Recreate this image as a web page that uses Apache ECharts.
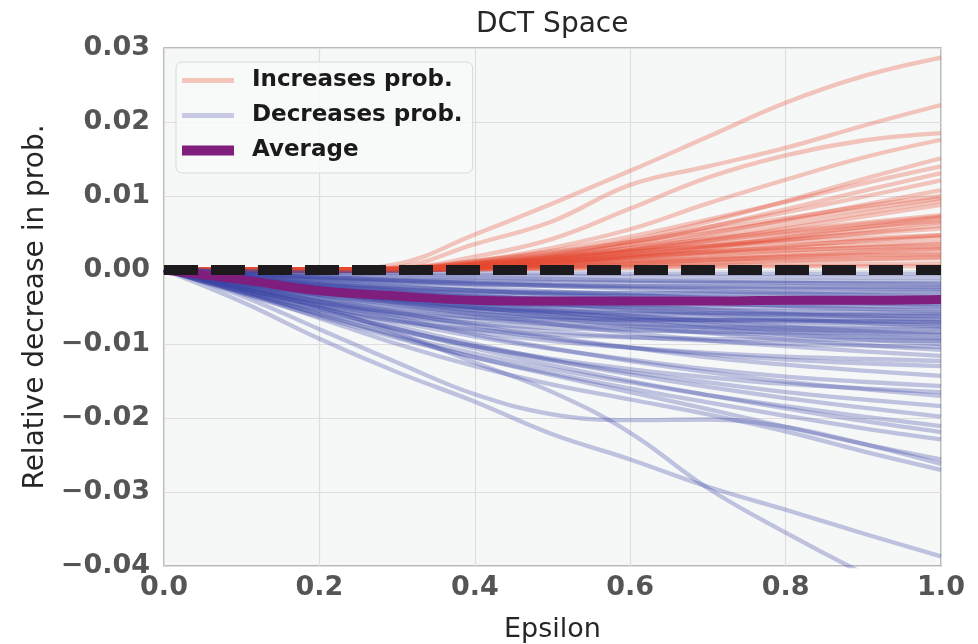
<!DOCTYPE html>
<html><head><meta charset="utf-8">
<script src="https://cdn.jsdelivr.net/npm/echarts/dist/echarts.min.js"></script>
<style>html,body{margin:0;padding:0;background:#fff}#c{width:978px;height:644px}</style>
</head><body><div id="c"></div>
<script>
const epsilon = [0, 0.1, 0.2, 0.3, 0.4, 0.5, 0.6, 0.7, 0.8, 0.9, 1.0];
const xTicks = [0, 0.2, 0.4, 0.6, 0.8, 1.0];
const yTicks = [-0.04, -0.03, -0.02, -0.01, 0, 0.01, 0.02, 0.03];

const increasesLines = [
  [0,0,0,0.0008,0.0048,0.009,0.0134,0.018,0.0226,0.0262,0.0287],
  [0,0,0,0.0004,0.0035,0.0066,0.0115,0.014,0.0165,0.0195,0.0223],
  [0,0,0,0.0002,0.0018,0.0042,0.0083,0.0125,0.0155,0.0175,0.0185],
  [0,0,0,0,0.0012,0.003,0.0055,0.009,0.0122,0.0152,0.0176],
  [0,0,0,0,0.0008,0.002,0.004,0.0065,0.0093,0.0123,0.0151],
  [0,0,0,0.0002,0.0012,0.0026,0.0045,0.0068,0.0092,0.0117,0.014],
  [0,0,0,0,0.0008,0.0018,0.0035,0.0058,0.0082,0.0107,0.0131],
  [0,0,0,0.0001,0.001,0.0022,0.0038,0.0058,0.0078,0.0099,0.0121],
  [0,0,0,0,0.0006,0.0016,0.003,0.0048,0.0068,0.0088,0.0108],
  [0,0,0,0.0002,0.0012,0.0024,0.0038,0.0054,0.007,0.0086,0.01],
  [0,0,0,0,0.0005,0.0013,0.0025,0.004,0.0056,0.0072,0.0088],
  [0,0,0,0.0001,0.0008,0.0018,0.003,0.0042,0.0053,0.0064,0.0074],
  [0,0,0,0,0.0004,0.001,0.002,0.0032,0.0043,0.0054,0.0065],
  [0,0,0,0.0001,0.0007,0.0015,0.0024,0.0033,0.0041,0.0049,0.0056],
  [0,0,0,0,0.0003,0.0009,0.0016,0.0024,0.0032,0.004,0.0047],
  [0,0,0,0.0001,0.0006,0.0012,0.0019,0.0025,0.003,0.0034,0.0038],
  [0,0,0,0,0.0003,0.0007,0.0012,0.0017,0.0022,0.0026,0.0029],
  [0,0,0,0,0.0002,0.0005,0.0009,0.0013,0.0017,0.002,0.0022],
  [0,0,0,0,0.0001,0.0003,0.0006,0.0009,0.0012,0.0014,0.0016],
  [0,0,0,0,0.0001,0.0002,0.0004,0.0006,0.0007,0.0008,0.0009],
  [0,0,0,0.0001,0.0009,0.002,0.0034,0.005,0.0066,0.0082,0.0097],
  [0,0,0,0,0.0005,0.0014,0.0027,0.0043,0.006,0.0077,0.0093],
  [0,0,0,0.0001,0.0007,0.0016,0.0027,0.0039,0.0051,0.0062,0.0072],
  [0,0,0,0,0.0004,0.0011,0.002,0.003,0.004,0.005,0.006],
  [0,0,0,0.0002,0.0009,0.0017,0.0025,0.0032,0.0038,0.0043,0.0047],
  [0,0,0,0,0.0003,0.0008,0.0014,0.002,0.0026,0.0031,0.0035],
  [0,0,0,0.0001,0.0006,0.0012,0.0018,0.0023,0.0027,0.003,0.0032],
  [0,0,0,0,0.0002,0.0005,0.0009,0.0014,0.0019,0.0024,0.0028],
  [0,0,0,0.0001,0.0004,0.0008,0.0012,0.0015,0.0018,0.002,0.0021],
  [0,0,0,0,0.0002,0.0004,0.0007,0.001,0.0013,0.0015,0.0017],
  [0,0,0,0,0.0003,0.0009,0.0018,0.003,0.0044,0.0058,0.0071],
  [0,0,0,0.0001,0.0006,0.0014,0.0024,0.0036,0.0048,0.0058,0.0066],
  [0,0,0,0,0.0004,0.001,0.0017,0.0025,0.0033,0.0039,0.0044],
  [0,0,0,0,0.0001,0.0002,0.0003,0.0004,0.0005,0.0005,0.0005]
];

const decreasesLines = [
  [0,-0.00015,-0.00028,-0.00036,-0.00042,-0.00046,-0.00048,-0.00049,-0.00049,-0.0005,-0.0005],
  [0,-0.0002,-0.0004,-0.00056,-0.0007,-0.0008,-0.00087,-0.00092,-0.00096,-0.00098,-0.001],
  [0,-0.00045,-0.00083,-0.00108,-0.00126,-0.00137,-0.00143,-0.00146,-0.00147,-0.00149,-0.0015],
  [0,-0.00026,-0.00052,-0.00076,-0.001,-0.0012,-0.0014,-0.00158,-0.00174,-0.00188,-0.002],
  [0,-0.00069,-0.00127,-0.00166,-0.00193,-0.00209,-0.00219,-0.00223,-0.00225,-0.00228,-0.0023],
  [0,-0.00054,-0.00108,-0.00151,-0.00189,-0.00216,-0.00235,-0.00248,-0.00259,-0.00265,-0.0027],
  [0,-0.00105,-0.00195,-0.00255,-0.00291,-0.00306,-0.00309,-0.00306,-0.00303,-0.003,-0.003],
  [0,-0.00099,-0.00182,-0.00238,-0.00277,-0.003,-0.00314,-0.0032,-0.00323,-0.00327,-0.0033],
  [0,-0.00047,-0.00094,-0.00137,-0.0018,-0.00216,-0.00252,-0.00284,-0.00313,-0.00338,-0.0036],
  [0,-0.0008,-0.0016,-0.00224,-0.0028,-0.0032,-0.00348,-0.00368,-0.00384,-0.00392,-0.004],
  [0,-0.00129,-0.00237,-0.0031,-0.00361,-0.00391,-0.00409,-0.00417,-0.00421,-0.00426,-0.0043],
  [0,-0.00161,-0.00299,-0.00391,-0.00446,-0.00469,-0.00474,-0.00469,-0.00465,-0.0046,-0.0046],
  [0,-0.001,-0.002,-0.0028,-0.0035,-0.004,-0.00435,-0.0046,-0.0048,-0.0049,-0.005],
  [0,-0.00159,-0.00292,-0.00382,-0.00445,-0.00482,-0.00504,-0.00514,-0.00519,-0.00525,-0.0053],
  [0,-0.00073,-0.00146,-0.00213,-0.0028,-0.00336,-0.00392,-0.00442,-0.00487,-0.00526,-0.0056],
  [0,-0.0018,-0.0033,-0.00432,-0.00504,-0.00546,-0.0057,-0.00582,-0.00588,-0.00594,-0.006],
  [0,-0.00126,-0.00252,-0.00353,-0.00441,-0.00504,-0.00548,-0.0058,-0.00605,-0.00617,-0.0063],
  [0,-0.00231,-0.00429,-0.00561,-0.0064,-0.00673,-0.0068,-0.00673,-0.00667,-0.0066,-0.0066],
  [0,-0.0021,-0.00385,-0.00504,-0.00588,-0.00637,-0.00665,-0.00679,-0.00686,-0.00693,-0.007],
  [0,-0.00146,-0.00292,-0.00409,-0.00511,-0.00584,-0.00635,-0.00672,-0.00701,-0.00715,-0.0073],
  [0,-0.00099,-0.00198,-0.00289,-0.0038,-0.00456,-0.00532,-0.006,-0.00661,-0.00714,-0.0076],
  [0,-0.0024,-0.0044,-0.00576,-0.00672,-0.00728,-0.0076,-0.00776,-0.00784,-0.00792,-0.008],
  [0,-0.00168,-0.00336,-0.0047,-0.00588,-0.00672,-0.00731,-0.00773,-0.00806,-0.00823,-0.0084],
  [0,-0.00114,-0.00229,-0.00334,-0.0044,-0.00528,-0.00616,-0.00695,-0.00766,-0.00827,-0.0088],
  [0,-0.00184,-0.00368,-0.00515,-0.00644,-0.00736,-0.008,-0.00846,-0.00883,-0.00902,-0.0092],
  [0,-0.00288,-0.00528,-0.00691,-0.00806,-0.00874,-0.00912,-0.00931,-0.00941,-0.0095,-0.0096],
  [0,-0.0013,-0.0026,-0.0038,-0.005,-0.006,-0.007,-0.0079,-0.0087,-0.0094,-0.01],
  [0,-0.00208,-0.00416,-0.00582,-0.00728,-0.00832,-0.00905,-0.00957,-0.00998,-0.01019,-0.0104],
  [0,-0.0014,-0.00281,-0.0041,-0.0054,-0.00648,-0.00756,-0.00853,-0.0094,-0.01015,-0.0108],
  [0,-0.00114,-0.00209,-0.00274,-0.00319,-0.00346,-0.00361,-0.00369,-0.00372,-0.00376,-0.0038],
  [0,-0.00062,-0.00125,-0.00182,-0.0024,-0.00288,-0.00336,-0.00379,-0.00418,-0.00451,-0.0048],
  [0,-0.00116,-0.00232,-0.00325,-0.00406,-0.00464,-0.00505,-0.00534,-0.00557,-0.00568,-0.0058],
  [0,-0.00088,-0.00177,-0.00258,-0.0034,-0.00408,-0.00476,-0.00537,-0.00592,-0.00639,-0.0068],
  [0,-0.00156,-0.00312,-0.00437,-0.00546,-0.00624,-0.00679,-0.00718,-0.00749,-0.00764,-0.0078],
  [0,-0.00258,-0.00473,-0.00619,-0.00722,-0.00783,-0.00817,-0.00834,-0.00843,-0.00851,-0.0086],
  [0,-0.00122,-0.00244,-0.00357,-0.0047,-0.00564,-0.00658,-0.00743,-0.00818,-0.00884,-0.0094],
  [0,-0.00054,-0.00099,-0.0013,-0.00151,-0.00164,-0.00171,-0.00175,-0.00176,-0.00178,-0.0018],
  [0,-0.0005,-0.001,-0.0014,-0.00175,-0.002,-0.00218,-0.0023,-0.0024,-0.00245,-0.0025],
  [0,-0.00186,-0.00341,-0.00446,-0.00521,-0.00564,-0.00589,-0.00601,-0.00608,-0.00614,-0.0062],
  [0,-0.00142,-0.00284,-0.00398,-0.00497,-0.00568,-0.00618,-0.00653,-0.00682,-0.00696,-0.0071],
  [0,-0.0015,-0.003,-0.0045,-0.006,-0.0073,-0.0085,-0.0095,-0.0103,-0.011,-0.0116],
  [0,-0.0022,-0.0043,-0.0062,-0.0079,-0.0093,-0.0105,-0.0114,-0.0121,-0.0126,-0.013],
  [0,-0.0019,-0.0038,-0.0057,-0.0075,-0.0091,-0.0105,-0.0118,-0.0128,-0.0136,-0.0143],
  [0,-0.0024,-0.0048,-0.007,-0.009,-0.0107,-0.0121,-0.0134,-0.0144,-0.0151,-0.0157],
  [0,-0.0021,-0.0043,-0.0065,-0.0087,-0.0106,-0.0123,-0.0138,-0.0151,-0.0161,-0.017],
  [0,-0.0028,-0.0055,-0.008,-0.0103,-0.0122,-0.0138,-0.0152,-0.0165,-0.0175,-0.0184],
  [0,-0.0025,-0.005,-0.0076,-0.01,-0.0122,-0.0141,-0.0158,-0.0173,-0.0186,-0.0198],
  [0,-0.003,-0.006,-0.0088,-0.0113,-0.0134,-0.0152,-0.0169,-0.0184,-0.0198,-0.0211],
  [0,-0.0026,-0.0053,-0.008,-0.0106,-0.0129,-0.015,-0.0169,-0.0187,-0.0204,-0.0219],
  [0,-0.0032,-0.0063,-0.0092,-0.0118,-0.014,-0.016,-0.0179,-0.0197,-0.0214,-0.0229],
  [0,-0.0025,-0.0048,-0.0068,-0.0084,-0.0096,-0.0105,-0.0112,-0.0117,-0.012,-0.0123],
  [0,-0.003,-0.0058,-0.0082,-0.0103,-0.012,-0.0134,-0.0145,-0.0154,-0.016,-0.0165],
  [0,-0.0025,-0.005,-0.0085,-0.0125,-0.0165,-0.022,-0.0295,-0.0355,-0.041,-0.046],
  [0,-0.0043,-0.0093,-0.0138,-0.0178,-0.0222,-0.0256,-0.0293,-0.0324,-0.0356,-0.0387],
  [0,-0.0035,-0.008,-0.0125,-0.0168,-0.0195,-0.0203,-0.0202,-0.0212,-0.0235,-0.0262],
  [0,-0.003,-0.0065,-0.01,-0.013,-0.0155,-0.0175,-0.0195,-0.0218,-0.0245,-0.027],
  [0,-0.0028,-0.006,-0.009,-0.0118,-0.0142,-0.0165,-0.0188,-0.0212,-0.0235,-0.0256]
];

const averageLine = [0,-0.0013,-0.0028,-0.0035,-0.0041,-0.0042,-0.0042,-0.0042,-0.0041,-0.0041,-0.004];
const zeroReference = 0;

const FONT = 'DejaVu Sans';
const RED = 'rgb(228,74,51)';
const BLUE = 'rgb(60,70,165)';
const PURPLE = '#7f1e7c';

function pairs(vals) { return vals.map((v, i) => [epsilon[i], v]); }

const series = [];
increasesLines.forEach(vals => series.push({
  name: 'Increases prob.', type: 'line', data: pairs(vals), smooth: 0.4,
  symbol: 'none', silent: true, color: RED,
  lineStyle: { color: RED, width: 4.3, opacity: 0.3 }, emphasis: { disabled: true }, z: 2
}));
decreasesLines.forEach(vals => series.push({
  name: 'Decreases prob.', type: 'line', data: pairs(vals), smooth: 0.4,
  symbol: 'none', silent: true, color: BLUE,
  lineStyle: { color: BLUE, width: 4.3, opacity: 0.3 }, emphasis: { disabled: true }, z: 2
}));
series.push({
  name: 'Average', type: 'line', data: pairs(averageLine), smooth: 0.4,
  symbol: 'none', silent: true, color: PURPLE,
  lineStyle: { color: PURPLE, width: 9 }, emphasis: { disabled: true }, z: 3,
  markLine: {
    silent: true, symbol: ['none', 'none'], label: { show: false },
    lineStyle: { color: '#1c1a1c', width: 10, type: [34, 13], opacity: 1 },
    data: [{ yAxis: zeroReference }]
  }
});

const fmtY = v => (v < -1e-12 ? '\u2212' : '') + Math.abs(v).toFixed(2);

const option = {
  animation: false,
  backgroundColor: '#ffffff',
  title: {
    text: 'DCT Space', left: 471, top: 6,
    textStyle: { fontFamily: FONT, fontSize: 28, fontWeight: 'normal', color: '#262626' }
  },
  legend: {
    data: [
      { name: 'Increases prob.', icon: 'path://M0,0L52,0L52,5L0,5Z', itemStyle: { color: '#f3c6b9', opacity: 1, borderWidth: 0 } },
      { name: 'Decreases prob.', icon: 'path://M0,0L52,0L52,5L0,5Z', itemStyle: { color: '#c8c9e5', opacity: 1, borderWidth: 0 } },
      { name: 'Average', icon: 'path://M0,0L52,0L52,10L0,10Z', itemStyle: { color: PURPLE, opacity: 1, borderWidth: 0 } }
    ],
    orient: 'vertical', left: 176, top: 62,
    itemWidth: 52, itemHeight: 14, itemGap: 12, symbolKeepAspect: true,
    padding: [7, 10, 11, 6],
    backgroundColor: 'rgba(248,249,249,0.85)', borderColor: '#d9d9d9', borderWidth: 1, borderRadius: 6,
    selectedMode: false,
    textStyle: { fontFamily: FONT, fontSize: 23, fontWeight: 'bold', color: '#1a1a1a', padding: [0, 0, 0, 13] }
  },
  grid: {
    left: 164, right: 37, top: 48, bottom: 78, containLabel: false, outerBoundsMode: 'none',
    show: true, backgroundColor: '#f6f8f7', borderColor: '#a3a3a3', borderWidth: 1.5
  },
  xAxis: {
    type: 'value', min: xTicks[0], max: xTicks[xTicks.length - 1], interval: 0.2,
    name: 'Epsilon', nameLocation: 'middle', nameGap: 50,
    nameTextStyle: { fontFamily: FONT, fontSize: 27, color: '#262626' },
    axisLine: { show: false }, axisTick: { show: false },
    axisLabel: { margin: 8, fontFamily: FONT, fontSize: 27, fontWeight: 'bold', color: '#555555',
      formatter: v => v.toFixed(1) },
    splitLine: { show: true, lineStyle: { color: '#dedede', width: 1.2 } }
  },
  yAxis: {
    type: 'value', min: yTicks[0], max: yTicks[yTicks.length - 1], interval: 0.01,
    name: 'Relative decrease in prob.', nameLocation: 'middle', nameGap: 112, nameRotate: 90,
    nameTextStyle: { fontFamily: FONT, fontSize: 28, color: '#262626' },
    axisLine: { show: false }, axisTick: { show: false },
    axisLabel: { margin: 14, fontFamily: FONT, fontSize: 27, fontWeight: 'bold', color: '#555555',
      formatter: fmtY },
    splitLine: { show: true, lineStyle: { color: '#dedede', width: 1.2 } }
  },
  series: series
};

const chart = echarts.init(document.getElementById('c'), null, { renderer: 'canvas' });
chart.setOption(option);
</script></body></html>
